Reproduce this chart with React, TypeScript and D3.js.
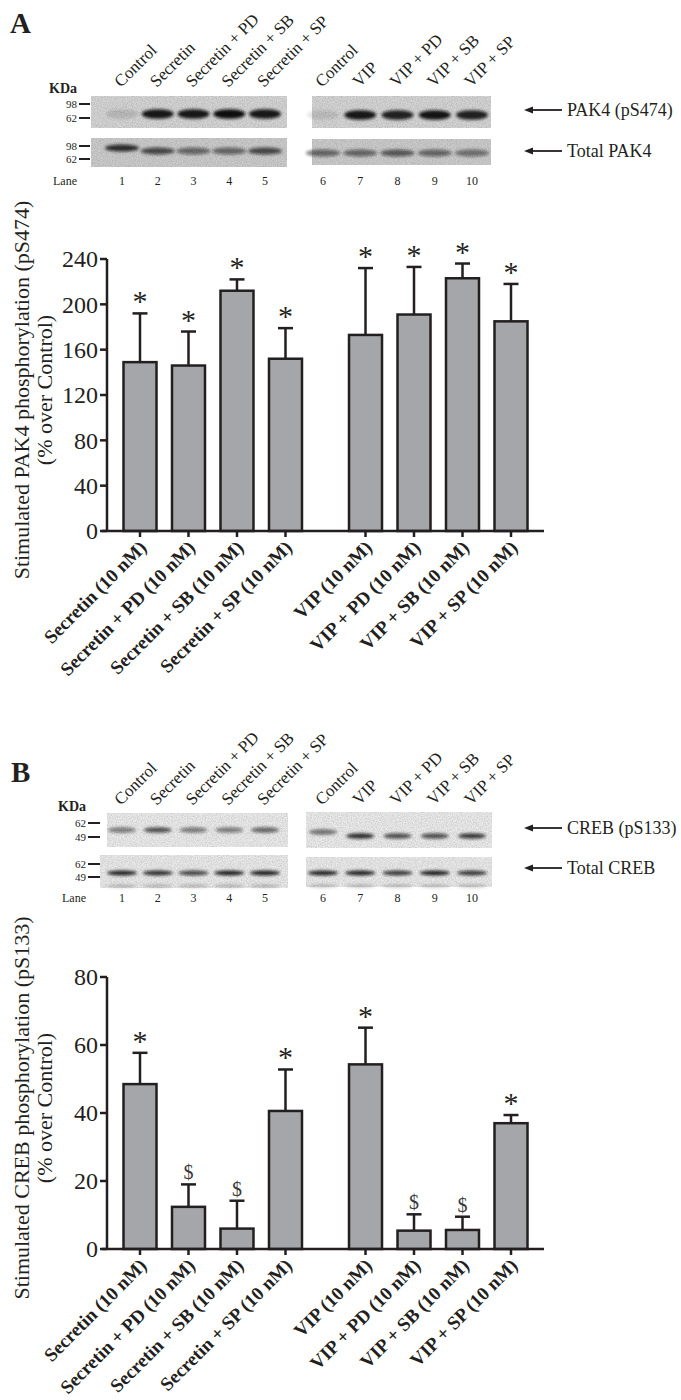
import React from 'react';
import * as d3 from 'd3';

// ---------- data ----------
const categories = [
  'Secretin (10 nM)', 'Secretin + PD (10 nM)', 'Secretin + SB (10 nM)', 'Secretin + SP (10 nM)',
  'VIP (10 nM)', 'VIP + PD (10 nM)', 'VIP + SB (10 nM)', 'VIP + SP (10 nM)',
];
const pak4Mean = [149, 146, 212, 152, 173, 191, 223, 185];
const pak4Sem = [43, 30, 10, 27, 59, 42, 13, 33];
const pak4Marks = ['*', '*', '*', '*', '*', '*', '*', '*'];
const pak4Ticks = [0, 40, 80, 120, 160, 200, 240];

const crebMean = [48.5, 12.4, 6.0, 40.6, 54.3, 5.4, 5.6, 37.0];
const crebSem = [9.2, 6.6, 8.2, 12.2, 10.8, 4.8, 3.9, 2.4];
const crebMarks = ['*', '$', '$', '*', '*', '$', '$', '*'];
const crebTicks = [0, 20, 40, 60, 80];

const laneLabels = ['Control', 'Secretin', 'Secretin + PD', 'Secretin + SB', 'Secretin + SP',
  'Control', 'VIP', 'VIP + PD', 'VIP + SB', 'VIP + SP'];
const laneNumbers = ['1', '2', '3', '4', '5', '6', '7', '8', '9', '10'];

// band intensities (0..1) read from the blots
const pak4Phospho = [0.12, 0.95, 0.95, 1.0, 0.95, 0.1, 0.95, 0.9, 0.97, 0.9];
const pak4Total = [0.85, 0.7, 0.55, 0.55, 0.7, 0.55, 0.55, 0.62, 0.55, 0.5];
const crebPhospho = [0.5, 0.7, 0.5, 0.5, 0.6, 0.55, 0.85, 0.7, 0.7, 0.8];
const crebTotal = [0.9, 0.85, 0.75, 0.92, 0.92, 0.9, 0.9, 0.8, 0.92, 0.8];

const kdaA = ['98', '62'];
const kdaB = ['62', '49'];

// ---------- layout ----------
const SERIF = '"Liberation Serif", "Times New Roman", serif';
const INK = '#231f20';
const BAR_FILL = '#a5a6a9';

const slot = (i: number) => i + (i >= 4 ? 0.65 : 0);
const xScale = d3.scaleLinear().domain([0, slot(7)]).range([140, 511]);
const laneLeft = d3.scalePoint<number>().domain([0, 1, 2, 3, 4]).range([122, 265]);
const laneRight = d3.scalePoint<number>().domain([5, 6, 7, 8, 9]).range([323, 472]);
const laneX = (i: number) => (i < 5 ? (laneLeft(i) as number) : (laneRight(i) as number));

type ChartProps = {
  mean: number[]; sem: number[]; marks: string[]; ticks: number[];
  y0: number; y1: number; max: number; title: string;
};

function BarChart({ mean, sem, marks, ticks, y0, y1, max, title }: ChartProps) {
  const y = d3.scaleLinear().domain([0, max]).range([y0, y1]);
  const axisX = 107;
  const barW = 33;
  const midY = (y0 + y1) / 2 - 5;
  return (
    <g>
      {/* y-axis title */}
      <text transform={`translate(29,${midY}) rotate(-90)`} textAnchor="middle"
        fontFamily={SERIF} fontSize={22} fill={INK}>Stimulated {title}</text>
      <text transform={`translate(52,${midY}) rotate(-90)`} textAnchor="middle"
        fontFamily={SERIF} fontSize={22} fill={INK}>(% over Control)</text>
      {/* bars */}
      {mean.map((m, i) => {
        const cx = xScale(slot(i));
        const top = y(m);
        const cap = y(m + sem[i]);
        return (
          <g key={i}>
            <line x1={cx} x2={cx} y1={top} y2={cap} stroke={INK} strokeWidth={2.5} />
            <line x1={cx - 7.5} x2={cx + 7.5} y1={cap} y2={cap} stroke={INK} strokeWidth={2.5} />
            <rect x={cx - barW / 2} y={top} width={barW} height={y(0) - top}
              fill={BAR_FILL} stroke={INK} strokeWidth={2.5} />
            {marks[i] === '*' ? (
              <text x={cx} y={cap - 2} textAnchor="middle" fontFamily={SERIF}
                fontSize={30} fill={INK}>*</text>
            ) : (
              <text x={cx} y={cap - 5} textAnchor="middle" fontFamily={SERIF}
                fontSize={20} fill="#3a3a3a">{marks[i]}</text>
            )}
            <line x1={cx} x2={cx} y1={y0} y2={y0 + 6} stroke={INK} strokeWidth={2.5} />
            <text transform={`translate(${cx + 3},${y0 + 13}) rotate(-45)`} textAnchor="end"
              fontFamily={SERIF} fontWeight="bold" fontSize={19} fill={INK}
              dy="0.35em">{categories[i]}</text>
          </g>
        );
      })}
      {/* axes */}
      <line x1={axisX} x2={axisX} y1={y(max)} y2={y0} stroke={INK} strokeWidth={2.5} />
      <line x1={axisX - 5} x2={544} y1={y0} y2={y0} stroke={INK} strokeWidth={2.5} />
      {ticks.map((t) => (
        <g key={t}>
          <line x1={axisX - 7} x2={axisX} y1={y(t)} y2={y(t)} stroke={INK} strokeWidth={2.5} />
          <text x={axisX - 9} y={y(t)} dy="0.35em" textAnchor="end" fontFamily={SERIF}
            fontSize={24} fill={INK}>{t}</text>
        </g>
      ))}
    </g>
  );
}

type BlotStrip = { x0: number; x1: number; y0: number; y1: number };
type BlotProps = {
  strips: BlotStrip[]; bandY: (i: number) => number; intens: number[];
  bg: string; rx: number; ry: number; extra?: number;
};

function Blot({ strips, bandY, intens, bg, rx, ry, extra }: BlotProps) {
  return (
    <g>
      {strips.map((s, k) => (
        <g key={k}>
          <rect x={s.x0} y={s.y0} width={s.x1 - s.x0} height={s.y1 - s.y0} fill={bg} />
          <rect x={s.x0} y={s.y0} width={s.x1 - s.x0} height={s.y1 - s.y0} fill="#000"
            filter="url(#grain)" opacity={0.5} />
        </g>
      ))}
      {intens.map((v, i) => (
        <g key={i} filter="url(#soft)">
          <ellipse cx={laneX(i)} cy={bandY(i)} rx={rx} ry={ry} fill="#111" opacity={v} />
          {extra !== undefined && (
            <ellipse cx={laneX(i)} cy={extra} rx={rx} ry={1.5} fill="#444" opacity={0.35} />
          )}
        </g>
      ))}
    </g>
  );
}

function BlotHeader({ dy, kda, kdaY, dashX, topLabel, botLabel, topY, botY, laneY }: {
  dy: number; kda: string[]; kdaY: number[]; dashX: [number, number];
  topLabel: string; botLabel: string; topY: number; botY: number; laneY: number;
}) {
  return (
    <g>
      {laneLabels.map((l, i) => (
        <text key={i} transform={`translate(${laneX(i) - 1},${88 + dy}) rotate(-45)`}
          fontFamily={SERIF} fontSize={17} fill={INK}>{l}</text>
      ))}
      <text x={dashX[0] - 30} y={dy + 93} fontFamily={SERIF} fontWeight="bold"
        fontSize={14} fill={INK}>KDa</text>
      {kdaY.map((yy, j) => (
        <g key={j}>
          <text x={dashX[0] - 2} y={yy} dy="0.35em" textAnchor="end" fontFamily={SERIF}
            fontSize={11} fill={INK}>{kda[j % 2]}</text>
          <line x1={dashX[0]} x2={dashX[1]} y1={yy} y2={yy} stroke={INK} strokeWidth={2} />
        </g>
      ))}
      <text x={dashX[0] - 2} y={laneY} textAnchor="end" fontFamily={SERIF} fontSize={12}
        fill={INK}>Lane</text>
      {laneNumbers.map((n, i) => (
        <text key={i} x={laneX(i)} y={laneY} textAnchor="middle" fontFamily={SERIF}
          fontSize={12} fill={INK}>{n}</text>
      ))}
      {[{ t: topLabel, y: topY }, { t: botLabel, y: botY }].map((a, k) => (
        <g key={k}>
          <line x1={530} x2={562} y1={a.y} y2={a.y} stroke={INK} strokeWidth={1.8} />
          <path d={`M524,${a.y} L533,${a.y - 3.5} L533,${a.y + 3.5} Z`} fill={INK} />
          <text x={567} y={a.y} dy="0.35em" fontFamily={SERIF} fontSize={18} fill={INK}>{a.t}</text>
        </g>
      ))}
    </g>
  );
}

export default function App() {
  return (
    <div style={{ position: 'absolute', left: 0, top: 0 }}>
      <svg width={681} height={1400} viewBox="0 0 681 1400" style={{ display: 'block', background: '#fff' }}>
        <defs>
          <filter id="soft" x="-50%" y="-100%" width="200%" height="300%">
            <feGaussianBlur stdDeviation="1.6" />
          </filter>
          <filter id="grain" x="0" y="0" width="100%" height="100%">
            <feTurbulence type="fractalNoise" baseFrequency="0.8" numOctaves="2" seed="3" result="n" />
            <feColorMatrix in="n" type="matrix"
              values="0 0 0 0 0  0 0 0 0 0  0 0 0 0 0  0 0 0 -0.5 0.35" />
            <feComposite in2="SourceGraphic" operator="in" />
          </filter>
        </defs>
        <rect width={681} height={1400} fill="#fff" />

        {/* ---------- Panel A ---------- */}
        <text x={10} y={33} fontFamily={SERIF} fontWeight="bold" fontSize={29} fill={INK}>A</text>
        <Blot strips={[{ x0: 91, x1: 287, y0: 96, y1: 128 }, { x0: 312, x1: 491, y0: 96, y1: 128 }]}
          bandY={(i) => (i < 5 ? 114 : 115)} intens={pak4Phospho} bg="#d6d6d6" rx={16} ry={4.8} />
        <Blot strips={[{ x0: 91, x1: 287, y0: 138, y1: 167 }, { x0: 312, x1: 491, y0: 139, y1: 165 }]}
          bandY={(i) => (i === 0 ? 148 : i < 5 ? 151 : 153)} intens={pak4Total} bg="#cdcdcd" rx={17} ry={3.6} />
        <BlotHeader dy={0} kda={kdaA} kdaY={[104, 118, 146, 159]} dashX={[79, 90]}
          topLabel="PAK4 (pS474)" botLabel="Total PAK4" topY={110} botY={151} laneY={185} />
        <BarChart mean={pak4Mean} sem={pak4Sem} marks={pak4Marks} ticks={pak4Ticks}
          y0={531} y1={259} max={240} title="PAK4 phosphorylation (pS474)" />

        {/* ---------- Panel B ---------- */}
        <text x={11} y={782} fontFamily={SERIF} fontWeight="bold" fontSize={29} fill={INK}>B</text>
        <Blot strips={[{ x0: 107, x1: 288, y0: 813, y1: 847 }, { x0: 306, x1: 492, y0: 812, y1: 848 }]}
          bandY={(i) => (i < 5 ? 830 : i === 5 ? 832 : 836)} intens={crebPhospho} bg="#ececec" rx={14} ry={2.8} />
        <Blot strips={[{ x0: 100, x1: 288, y0: 855, y1: 888 }, { x0: 306, x1: 492, y0: 857, y1: 887 }]}
          bandY={() => 873} intens={crebTotal} bg="#ebebeb" rx={15} ry={2.4} extra={886} />
        <BlotHeader dy={718} kda={kdaB} kdaY={[823, 837, 864, 877]} dashX={[88, 100]}
          topLabel="CREB (pS133)" botLabel="Total CREB" topY={828} botY={868} laneY={902} />
        <BarChart mean={crebMean} sem={crebSem} marks={crebMarks} ticks={crebTicks}
          y0={1249} y1={977} max={80} title="CREB phosphorylation (pS133)" />
      </svg>
    </div>
  );
}
